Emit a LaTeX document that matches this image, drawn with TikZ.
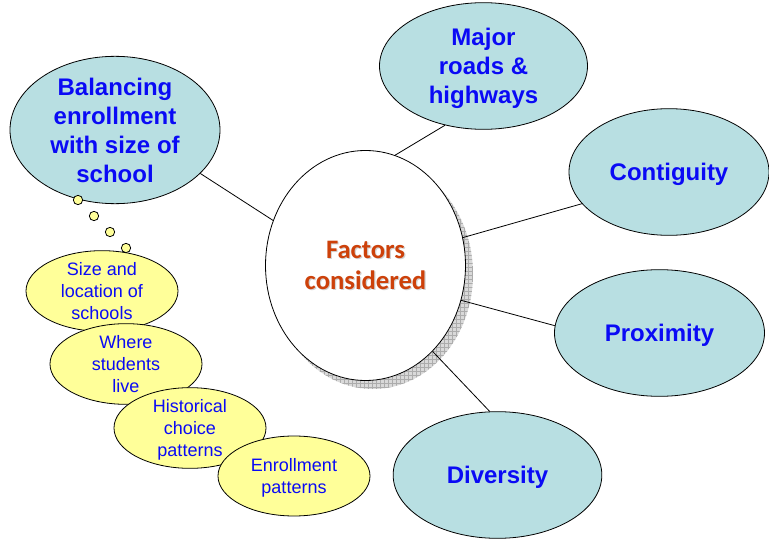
\documentclass[tikz,border=0pt]{standalone}
\usepackage{fontspec}
\setmainfont{Liberation Sans}
\newfontfamily\calib{Carlito}
\usetikzlibrary{shapes.geometric,patterns}
\definecolor{teal1}{RGB}{184,223,226}
\definecolor{yel1}{RGB}{255,255,153}
\definecolor{bluetxt}{RGB}{10,10,245}
\definecolor{redtxt}{RGB}{205,65,10}
\tikzset{
  outer/.style={ellipse, draw=black, line width=0.6pt, fill=teal1, inner sep=0pt, text depth=0pt,
    text=bluetxt, align=center, font=\fontsize{18}{21.7}\selectfont\bfseries},
  sub/.style={ellipse, draw=black, line width=0.6pt, fill=yel1, inner sep=0pt, text depth=0pt,
    minimum width=114pt, minimum height=60pt,
    text=bluetxt, align=center, font=\fontsize{13.5}{16.5}\selectfont},
  bub/.style={circle, draw=black, line width=0.6pt, fill=yel1, inner sep=0pt, minimum size=7pt},
  link/.style={draw=black, line width=0.6pt}
}
\begin{document}
\begin{tikzpicture}[x=0.75pt,y=-0.75pt]
\useasboundingbox (0,0) rectangle (769,539);
% shadow of center
\fill[gray!30] (373,274) ellipse [x radius=100, y radius=115];
\fill[pattern=grid, pattern color=gray!65] (373,274) ellipse [x radius=100, y radius=115];
% center
\node[ellipse, draw=black, line width=0.6pt, fill=white, inner sep=0pt,
  minimum width=150pt, minimum height=172.5pt] (c) at (365.5,265.5) {};
\node[text=gray!35, align=center, font=\calib\fontsize{20}{23.2}\selectfont\bfseries] (csh) at (366.7,266.7) {Factors\\considered};
\node[text=redtxt, align=center, font=\calib\fontsize{20}{23.2}\selectfont\bfseries] (ct) at (365.5,265.5) {Factors\\considered};
% outer ellipses
\node[outer, minimum width=157.5pt, minimum height=90pt] (bal) at (115,130) {Balancing\\enrollment\\with size of\\school};
\node[outer, minimum width=156pt, minimum height=95pt] (maj) at (483.5,66) {Major\\roads \&\\highways};
\node[outer, minimum width=150pt, minimum height=95pt] (con) at (669,172) {Contiguity};
\node[outer, minimum width=157.5pt, minimum height=95pt] (pro) at (659.5,333) {Proximity};
\node[outer, minimum width=156.5pt, minimum height=95pt] (div) at (497.5,475) {Diversity};
% connectors
\draw[link] (c.154) -- (bal.-27);
\draw[link] (c.75) -- (maj.237);
\draw[link] (c.16) -- (con.200);
\draw[link] (c.-20) -- (pro.176);
\draw[link] (c.-52) -- (div.97);
% thought bubbles
\node[bub] (b1) at (78,200) {};
\node[bub] (b2) at (94,216) {};
\node[bub] (b3) at (110,232) {};
\node[bub] (b4) at (126,248) {};
% sub ellipses
\node[sub] (s1) at (102,291) {Size and\\location of\\schools};
\node[sub] (s2) at (126,364) {Where\\students\\live};
\node[sub] (s3) at (190,428) {Historical\\choice\\patterns};
\node[sub] (s4) at (294,476) {Enrollment\\patterns};
\end{tikzpicture}
\end{document}
